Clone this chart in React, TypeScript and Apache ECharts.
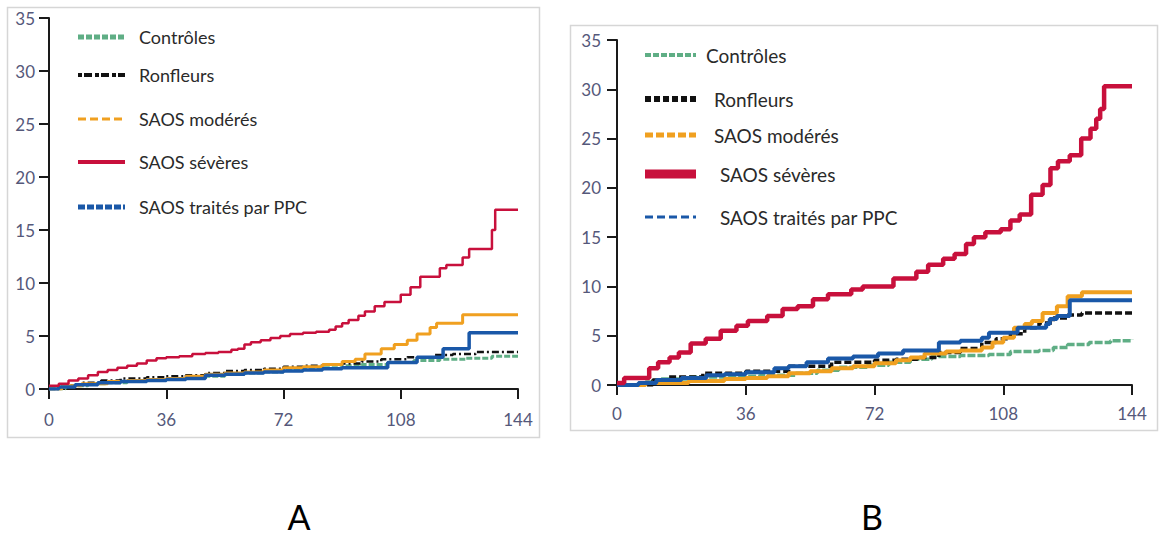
import React, { useEffect, useRef } from "react";
import * as echarts from "echarts";

const xTicks = [0, 36, 72, 108, 144];
const seriesNames = ["Contrôles", "Ronfleurs", "SAOS modérés", "SAOS sévères", "SAOS traités par PPC"];
const seriesColors = ["#5fae85", "#111111", "#f0a020", "#c8103c", "#1a58a8"];
const panelLabels = ["A", "B"];

// Panel A (months, cumulative %)
const greenA: [number, number][] = [[0,0],[5,0.3],[12,0.5],[18,0.6],[24,0.7],[30,0.8],[36,0.9],[42,1.1],[48,1.2],[54,1.4],[60,1.5],[66,1.6],[72,1.8],[78,1.9],[84,2.0],[90,2.2],[96,2.3],[104,2.5],[112,2.7],[120,2.8],[128,2.9],[136,3.1],[144,3.1]];
const blackA: [number, number][] = [[0,0],[4,0.3],[10,0.6],[16,0.8],[22,1.0],[30,1.1],[36,1.2],[42,1.3],[48,1.5],[54,1.7],[60,1.8],[66,1.9],[72,2.1],[78,2.2],[84,2.3],[90,2.4],[96,2.6],[102,2.8],[110,3.0],[118,3.2],[124,3.3],[131,3.5],[144,3.5]];
const orangeA: [number, number][] = [[0,0],[4,0.3],[10,0.5],[18,0.7],[24,0.8],[30,0.9],[36,1.0],[42,1.2],[48,1.4],[54,1.5],[60,1.6],[66,1.8],[72,2.0],[78,2.1],[84,2.3],[90,2.6],[94,2.8],[97,3.3],[102,3.8],[106,4.2],[110,4.6],[113,5.2],[117,5.8],[119,6.2],[127,7.0],[144,7.0]];
const redA: [number, number][] = [[0,0.3],[3,0.5],[6,0.8],[9,1.0],[12,1.3],[15,1.6],[18,1.8],[21,2.0],[24,2.2],[27,2.4],[30,2.7],[33,2.9],[36,3.0],[40,3.1],[44,3.3],[48,3.4],[52,3.5],[56,3.7],[58,3.8],[60,4.2],[62,4.4],[65,4.6],[68,4.8],[71,5.0],[74,5.2],[78,5.3],[82,5.4],[86,5.6],[88,5.9],[90,6.2],[92,6.5],[95,6.9],[97,7.3],[100,7.8],[103,8.2],[108,8.9],[111,9.6],[114,10.6],[120,11.4],[122,11.7],[127,12.4],[129,13.2],[136,15.0],[137,16.9],[144,16.9]];
const blueA: [number, number][] = [[0,0],[3,0.2],[8,0.4],[15,0.6],[22,0.7],[30,0.8],[36,0.9],[42,1.0],[48,1.3],[54,1.4],[60,1.5],[66,1.6],[72,1.7],[78,1.8],[84,1.9],[90,2.0],[104,2.5],[113,3.0],[121,3.8],[129,5.3],[144,5.3]];

// Panel B (months, cumulative %)
const greenB: [number, number][] = [[0,0],[8,0.3],[12,0.6],[20,0.8],[30,0.9],[40,1.0],[50,1.2],[56,1.5],[62,1.8],[70,2.0],[76,2.3],[82,2.6],[88,2.9],[96,3.0],[104,3.1],[110,3.4],[118,3.5],[122,3.8],[126,4.1],[132,4.3],[138,4.5],[144,4.6]];
const blackB: [number, number][] = [[0,0],[10,0.5],[14,0.8],[24,1.2],[36,1.4],[48,1.9],[60,2.3],[72,2.5],[78,2.6],[84,2.8],[90,3.3],[96,3.7],[102,4.3],[106,4.7],[110,5.2],[114,5.8],[118,6.3],[122,6.8],[126,7.1],[130,7.3],[144,7.3]];
const orangeB: [number, number][] = [[0,0],[8,0.2],[20,0.4],[30,0.6],[36,0.7],[42,0.9],[48,1.2],[54,1.4],[60,1.7],[66,1.9],[72,2.2],[78,2.5],[82,2.8],[86,3.2],[92,3.4],[96,3.5],[102,3.8],[105,4.3],[108,4.8],[111,5.8],[114,6.2],[116,6.5],[119,7.3],[123,8.0],[126,9.0],[130,9.4],[144,9.4]];
const redB: [number, number][] = [[0,0.2],[2,0.7],[9,1.7],[11.5,2.3],[14.7,2.8],[17.3,3.3],[20.6,4.2],[24.8,4.7],[29,5.5],[33.4,6.0],[36.6,6.5],[42,7.0],[46.3,7.7],[50.5,8.0],[54.8,8.7],[59,9.2],[65.5,9.7],[68.7,10.0],[77.3,10.8],[83.7,11.5],[87,12.2],[91.2,12.8],[94.4,13.3],[97.6,14.3],[99.8,15.0],[103,15.5],[107.3,15.8],[110,16.7],[112.6,17.3],[115.8,19.3],[119,20.3],[121.2,22.0],[123.3,22.7],[126.6,23.3],[129.8,25.0],[132.4,26.0],[134,27.0],[135.1,28.0],[136.2,30.3],[144,30.3]];
const blueB: [number, number][] = [[0,0],[6,0.2],[11,0.5],[18,0.7],[25,1.0],[30,1.1],[36,1.3],[44,1.7],[48,1.9],[53,2.3],[59,2.7],[66,2.9],[73,3.2],[80,3.5],[90,4.3],[96,4.5],[102,4.8],[104,5.3],[112,5.8],[120,6.2],[121,6.7],[123,7.0],[126.6,8.6],[144,8.6]];

const FONT = "Lato, 'Open Sans', sans-serif";
const TICK_COLOR = "#55587a";

function axisPair(gridIndex: number, fontSize: number, xMargin: number, yMargin: number) {
  const axisLine = { show: true, lineStyle: { color: "#1a1a1a", width: 2 } };
  const axisTick = { show: true, length: 10, lineStyle: { color: "#1a1a1a", width: 2 } };
  return {
    x: {
      type: "value", gridIndex, min: 0, max: 144, interval: 36,
      axisLine, axisTick, splitLine: { show: false },
      axisLabel: { color: TICK_COLOR, fontSize, fontFamily: FONT, margin: xMargin,
        formatter: (v: number) => (xTicks.includes(v) ? String(v) : "") },
    },
    y: {
      type: "value", gridIndex, min: 0, max: 35, interval: 5,
      axisLine, axisTick, splitLine: { show: false },
      axisLabel: { color: TICK_COLOR, fontSize, fontFamily: FONT, margin: yMargin },
    },
  };
}

function mkSeries(name: string, data: [number, number][], idx: number, color: string, width: number, dash: any, z: number) {
  return {
    type: "line", name, data, xAxisIndex: idx, yAxisIndex: idx, step: "end",
    showSymbol: false, symbol: "none", z,
    lineStyle: { color, width, type: dash },
  };
}

function legend(x0: number, x1: number, textXs: number[], ys: number[], fontSize: number, widths: number[], dashes: any[]) {
  const els: any[] = [];
  seriesNames.forEach((n, i) => {
    els.push({
      type: "line", shape: { x1: x0, y1: ys[i], x2: x1, y2: ys[i] },
      style: { stroke: seriesColors[i], lineWidth: widths[i], lineDash: dashes[i] },
    });
    els.push({
      type: "text", x: textXs[i], y: ys[i],
      style: { text: n, fill: "#2a2a2a", fontSize, fontFamily: FONT, verticalAlign: "middle", align: "left" },
    });
  });
  return els;
}

export default function App() {
  const ref = useRef<HTMLDivElement>(null);
  useEffect(() => {
    if (!ref.current) return;
    const chart = echarts.init(ref.current, undefined, { renderer: "svg" });
    const a = axisPair(0, 17, 22, 14);
    const b = axisPair(1, 17, 20, 16);
    const option: any = {
      animation: false,
      backgroundColor: "#ffffff",
      grid: [
        { left: 49, top: 18, width: 469, height: 371 },
        { left: 617, top: 40, width: 515, height: 345 },
      ],
      xAxis: [a.x, b.x],
      yAxis: [a.y, b.y],
      series: [
        mkSeries(seriesNames[0], greenA, 0, seriesColors[0], 3, [6, 2], 2),
        mkSeries(seriesNames[1], blackA, 0, seriesColors[1], 2.5, [7, 3, 2, 3], 3),
        mkSeries(seriesNames[2], orangeA, 0, seriesColors[2], 3, "solid", 4),
        mkSeries(seriesNames[4], blueA, 0, seriesColors[4], 3.5, "solid", 5),
        mkSeries(seriesNames[3], redA, 0, seriesColors[3], 2.5, "solid", 6),
        mkSeries(seriesNames[0], greenB, 1, seriesColors[0], 3.5, [8, 2], 2),
        mkSeries(seriesNames[1], blackB, 1, seriesColors[1], 3.5, [7, 3], 3),
        mkSeries(seriesNames[2], orangeB, 1, seriesColors[2], 4, "solid", 4),
        mkSeries(seriesNames[4], blueB, 1, seriesColors[4], 4, "solid", 5),
        mkSeries(seriesNames[3], redB, 1, seriesColors[3], 4.5, "solid", 6),
      ],
      graphic: [
        { type: "rect", shape: { x: 7.5, y: 7.5, width: 532, height: 430 }, style: { fill: "none", stroke: "#d6d6d6", lineWidth: 1.5 }, z: -1 },
        { type: "rect", shape: { x: 570.5, y: 25.5, width: 587, height: 405 }, style: { fill: "none", stroke: "#d6d6d6", lineWidth: 1.5 }, z: -1 },
        ...legend(78, 125, [139, 139, 139, 139, 139], [37, 75, 119, 162, 207], 18,
          [5, 4, 3, 4, 5], [[6, 2], [4, 2, 8, 3], [8, 4], null, [7, 2]]),
        ...legend(645, 696, [706, 714, 714, 720, 720], [55, 99, 135, 174, 217], 19,
          [4, 6, 5, 9, 3], [[6, 2], [6, 3], [8, 3], null, [8, 4]]),
        { type: "text", x: 299, y: 516, style: { text: panelLabels[0], fill: "#000", fontSize: 34, lineHeight: 34, fontFamily: FONT, align: "center", verticalAlign: "middle" } },
        { type: "text", x: 872, y: 516, style: { text: panelLabels[1], fill: "#000", fontSize: 34, lineHeight: 34, fontFamily: FONT, align: "center", verticalAlign: "middle" } },
      ],
    };
    chart.setOption(option);
    return () => chart.dispose();
  }, []);
  return <div ref={ref} style={{ position: "absolute", left: 0, top: 0, width: 1160, height: 535 }} />;
}
